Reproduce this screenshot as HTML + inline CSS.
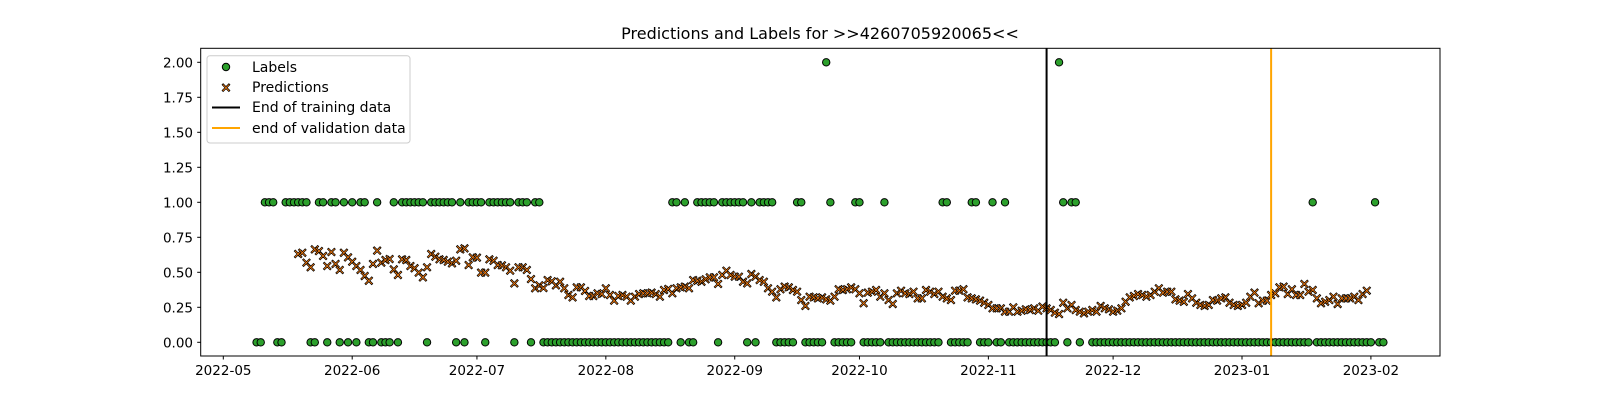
<!DOCTYPE html>
<html><head><meta charset="utf-8"><style>
html,body{margin:0;padding:0;background:#fff;}
svg{display:block;font-family:"DejaVu Sans","Liberation Sans",sans-serif;}
</style></head><body>
<svg id="chart" width="1600" height="400" viewBox="0 0 1600 400">
<rect x="0" y="0" width="1600" height="400" fill="#fff"/>
<text x="820" y="39" text-anchor="middle" font-size="16" fill="#000">Predictions and Labels for &gt;&gt;4260705920065&lt;&lt;</text>
<g id="marks"></g>
<rect x="200.7" y="48.3" width="1239.3" height="307.7" fill="none" stroke="#000" stroke-width="1"/>
<g id="axes"></g>
<g>
<rect x="207" y="55.7" width="203" height="87.3" rx="3" fill="#fff" fill-opacity="0.8" stroke="#ccc"/>
<circle cx="226" cy="67" r="3.7" fill="#2ca02c" stroke="#000" stroke-width="1"/>
<text x="252" y="72" font-size="14">Labels</text>
<path d="M-4 -6 L0 -2 L4 -6 L5.5 -4.5 L1.5 -0.5 L5.5 3.5 L4 5 L0 1 L-4 5 L-5.5 3.5 L-1.5 -0.5 L-5.5 -4.5 Z" transform="translate(226,88) scale(0.72)" fill="#ff7f0e" stroke="#000" stroke-width="1"/>
<text x="252" y="92" font-size="14">Predictions</text>
<line x1="212" y1="107.5" x2="240" y2="107.5" stroke="#000" stroke-width="2"/>
<text x="252" y="112" font-size="14">End of training data</text>
<line x1="212" y1="128" x2="240" y2="128" stroke="#ffa500" stroke-width="2"/>
<text x="252" y="133" font-size="14">end of validation data</text>
</g>
</svg>
<script>
// day offsets from 2022-05-01
const labelStartDay = 8;
const labelValues = [0,0,1,1,1,0,0,1,1,1,1,1,1,0,0,1,1,0,1,1,0,1,0,1,0,1,1,0,0,1,0,0,0,1,0,1,1,1,1,1,1,0,1,1,1,1,1,1,0,1,0,1,1,1,1,0,1,1,1,1,1,1,0,1,1,1,0,1,1,
0,0,0,0,0,0,0,0,0,0,0,0,0,0,0,0,0,0,0,0,0,0,0,0,0,0,0,0,0,0,
0,1,1,0,1,0,0,1,1,1,1,1,0,1,1,1,1,1,1,0,1,0,1,1,1,1,0,0,0,0,0,1,1,0,0,0,0,0,2,1,0,0,0,0,0,1,1,0,0,0,0,0,1,
0,0,0,0,0,0,0,0,0,0,0,0,0,1,1,0,0,0,0,0,1,1,0,0,0,1,0,0,1,0,
0,0,0,0,0,0,0,0,0,0,0,2,1,0,1,1,0,null,null,
0,0,0,0,0,0,0,0,0,0,0,0,0,0,0,0,0,0,0,0,0,0,0,0,0,0,0,0,0,0,0,0,0,0,0,0,0,0,0,0,0,0,0,0,0,0,0,0,0,0,0,0,0,
1,0,0,0,0,0,0,0,0,0,0,0,0,0,0,1,0,0];
const predStartDay = 18;
const predValues = [.631,.640,.569,.536,.664,.652,.617,.545,.645,.560,.517,.640,.607,.576,.545,.517,.474,.440,.560,.655,.569,.588,.595,.521,.481,.593,.588,.545,.529,.498,.464,.536,.631,.612,.593,.588,.576,.564,.583,.664,.671,.552,.607,.605,.498,.498,.593,.583,.552,.550,.536,.512,.421,.536,.536,.517,.452,.386,.407,.388,.445,.436,.407,.433,.386,.338,.321,.393,.393,.367,.331,.331,.350,
.345,.386,.338,.298,.331,.338,.326,.298,.326,.345,.350,.350,.355,.345,.326,.374,.381,.350,.386,.393,.398,.386,.445,.440,.433,.450,.464,.464,.417,.481,.512,.481,.469,.469,.433,.421,.488,.469,.445,.433,.386,.362,.321,.379,.398,.393,.374,.362,.302,.260,.326,.321,.314,.321,.307,.298,.326,.379,.374,.379,.393,.379,.350,.279,.355,.362,.374,.326,.350,.302,.274,.350,.369,.350,.345,.362,.314,.314,.374,.362,.345,.362,.326,.314,.302,.369,.369,.379,.321,.314,.307,.298,.283,.267,.243,.243,.243,.219,.219,
.250,.219,.226,.236,.231,.243,.226,.255,.243,.231,.212,.202,.283,.243,.267,.231,.219,.207,.219,.231,.219,.260,.243,.236,.219,.226,.243,.290,.321,.331,.345,.338,.326,.338,.362,.386,.355,.362,.362,.307,.298,.290,.345,.314,.283,.267,.260,.267,.302,.298,.314,.321,.283,.267,.260,.267,.283,.326,.355,.279,.298,.298,.338,.350,.393,.398,.345,.379,.338,.338,.417,.362,.374,.314,.279,.290,.302,.326,.274,.314,.314,.314,.326,.302,.345,.369];
const trainingEndDay = 198;
const validationEndDay = 252;
const xTickDays = [0,31,61,92,123,153,184,214,245,276];
const xTickLabels = ["2022-05","2022-06","2022-07","2022-08","2022-09","2022-10","2022-11","2022-12","2023-01","2023-02"];
const yTickValues = [0,0.25,0.5,0.75,1,1.25,1.5,1.75,2];
const yTickLabels = ["0.00","0.25","0.50","0.75","1.00","1.25","1.50","1.75","2.00"];

const NS = "http://www.w3.org/2000/svg";
function xDay(d){ return 223.3 + d*4.158; }
function yVal(v){ return 342.3 - v*140; }
function mk(tag, attrs, parent){ const e=document.createElementNS(NS,tag); for(const k in attrs) e.setAttribute(k,attrs[k]); parent.appendChild(e); return e; }
const marks = document.getElementById('marks');
const axes = document.getElementById('axes');

labelValues.forEach((v,i)=>{
  if(v===null) return;
  const c = mk('circle',{cx:xDay(labelStartDay+i),cy:yVal(v),r:3.7,fill:'#2ca02c',stroke:'#000','stroke-width':1},marks);
  
  
});
const xPath = "M-4 -6 L0 -2 L4 -6 L5.5 -4.5 L1.5 -0.5 L5.5 3.5 L4 5 L0 1 L-4 5 L-5.5 3.5 L-1.5 -0.5 L-5.5 -4.5 Z";
predValues.forEach((v,i)=>{
  const p = mk('path',{d:xPath,transform:`translate(${xDay(predStartDay+i)},${yVal(v)+0.4}) scale(0.72)`,fill:'#ff7f0e',stroke:'#000','stroke-width':1},marks);
  
  
});
const tl = mk('line',{x1:xDay(trainingEndDay),x2:xDay(trainingEndDay),y1:48.3,y2:356,stroke:'#000','stroke-width':2},marks);


const vl = mk('line',{x1:xDay(validationEndDay),x2:xDay(validationEndDay),y1:48.3,y2:356,stroke:'#ffa500','stroke-width':2},marks);



xTickDays.forEach((d,i)=>{
  const x = xDay(d);
  const t = mk('line',{x1:x,x2:x,y1:356,y2:359.5,stroke:'#000','stroke-width':1},axes);
  
  
  const tx = mk('text',{x:x,y:375,'text-anchor':'middle','font-size':13.5,fill:'#000'},axes);
  tx.textContent = xTickLabels[i];
  
  
});
yTickValues.forEach((v,i)=>{
  const y = yVal(v);
  const t = mk('line',{x1:197.2,x2:200.7,y1:y,y2:y,stroke:'#000','stroke-width':1},axes);
  
  
  const tx = mk('text',{x:193,y:y+5,'text-anchor':'end','font-size':13.5,fill:'#000'},axes);
  tx.textContent = yTickLabels[i];
  
  
});
</script>
</body></html>
